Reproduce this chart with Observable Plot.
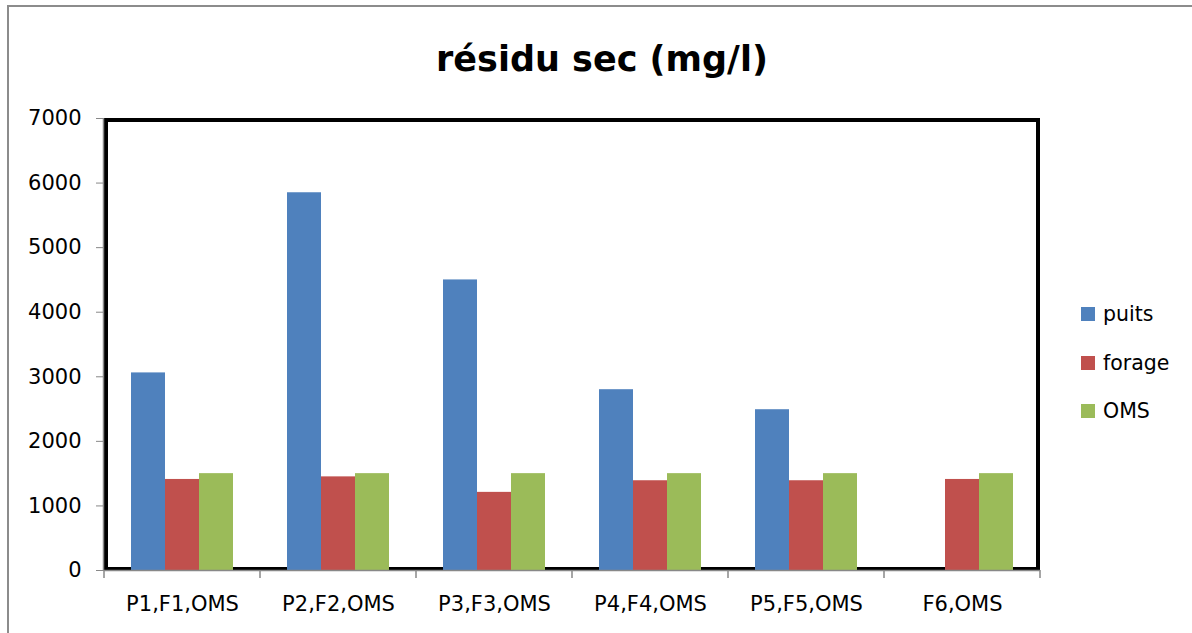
<!DOCTYPE html>
<html>
<head>
<meta charset="utf-8">
<script src="https://cdn.jsdelivr.net/npm/d3@7"></script>
<script src="https://cdn.jsdelivr.net/npm/@observablehq/plot@0.6"></script>
<style>
  html, body { margin: 0; padding: 0; background: #fff; overflow: hidden; }
  #wrap { position: relative; width: 1192px; height: 633px; font-family: "DejaVu Sans", sans-serif; }
  #border { position: absolute; left: 7px; top: 5px; width: 1400px; height: 800px;
            border-left: 2px solid #8c8c8c; border-top: 2px solid #8c8c8c; }
  #title { position: absolute; left: 6px; top: 38px; width: 1192px; text-align: center;
           font-size: 35px; font-weight: bold; line-height: 42px; color: #000; }
  #chart { position: absolute; left: 0; top: 90px; }
  #legend { position: absolute; left: 1081px; top: 300px; font-size: 20.5px; color: #000; }
  #legend .item { display: flex; align-items: center; height: 28px; margin-bottom: 20.5px; }
  #legend .sw { width: 14px; height: 14px; margin-right: 8px; }
</style>
</head>
<body>
<div id="wrap">
  <div id="border"></div>
  <div id="title"></div>
  <div id="chart"></div>
  <div id="legend"></div>
</div>
<script>
const titleText = "résidu sec (mg/l)";
const categories = ["P1,F1,OMS", "P2,F2,OMS", "P3,F3,OMS", "P4,F4,OMS", "P5,F5,OMS", "F6,OMS"];
const series = ["puits", "forage", "OMS"];
const puits = [3060, 5850, 4500, 2800, 2490, null];
const forage = [1410, 1450, 1210, 1390, 1390, 1410];
const oms = [1500, 1500, 1500, 1500, 1500, 1500];
const yTicks = [0, 1000, 2000, 3000, 4000, 5000, 6000, 7000];
const colors = ["#4F81BD", "#C0504D", "#9BBB59"];

const valuesBySeries = [puits, forage, oms];
const data = [];
categories.forEach((c, i) => {
  series.forEach((s, j) => {
    const v = valuesBySeries[j][i];
    if (v != null) data.push({cat: c, series: s, value: v});
  });
});

document.getElementById("title").textContent = titleText;

const chart = Plot.plot({
  width: 1192,
  height: 543,
  marginTop: 28,
  marginBottom: 63,
  marginLeft: 104,
  marginRight: 152,
  style: {fontFamily: "DejaVu Sans, sans-serif", fontSize: "21px", color: "#000", background: "transparent", overflow: "visible"},
  fx: {domain: categories, padding: 0, label: null},
  x: {domain: series, paddingInner: 0, paddingOuter: 0.75, axis: null},
  y: {domain: [0, 7000], label: null},
  color: {domain: series, range: colors},
  marks: [
    Plot.barY(data, {fx: "cat", x: "series", y: "value", fill: "series"}),
    Plot.axisY({ticks: yTicks, tickSize: 8, tickPadding: 15, stroke: "#888", label: null, tickFormat: d => String(d), fill: "#000", fontSize: 21}),
    Plot.axisFx({anchor: "bottom", tickSize: 0, tickPadding: 26, label: null, fill: "#000", fontSize: 21})
  ]
});
document.getElementById("chart").appendChild(chart);

// frame and category ticks, positioned from Plot's own scales
const fxScale = chart.scale("fx");
const yScale = chart.scale("y");
const svg = d3.select(chart);
const xLeft = fxScale.apply(categories[0]);
const xRight = fxScale.apply(categories[categories.length - 1]) + fxScale.bandwidth;
const yBottom = yScale.apply(0);
const yTop = yScale.apply(7000);
svg.insert("rect", ":first-child")
  .attr("x", xLeft + 2).attr("y", yTop + 2)
  .attr("width", xRight - xLeft - 4).attr("height", yBottom - yTop - 3)
  .attr("fill", "none").attr("stroke", "#000").attr("stroke-width", 4);
svg.append("line").attr("x1", xLeft - 0.5).attr("x2", xLeft - 0.5).attr("y1", yTop).attr("y2", yBottom)
  .attr("stroke", "#888").attr("stroke-width", 1.5);
svg.append("line").attr("x1", xLeft).attr("x2", xRight).attr("y1", yBottom + 0.5).attr("y2", yBottom + 0.5)
  .attr("stroke", "#888").attr("stroke-width", 1.5);
const edges = categories.map(c => fxScale.apply(c)).concat([xRight]);
svg.append("g").selectAll("line").data(edges).join("line")
  .attr("x1", d => d).attr("x2", d => d).attr("y1", yBottom).attr("y2", yBottom + 8)
  .attr("stroke", "#888").attr("stroke-width", 1.5);

// legend
const legend = d3.select("#legend");
series.forEach((s, i) => {
  const item = legend.append("div").attr("class", "item");
  item.append("div").attr("class", "sw").style("background", colors[i]);
  item.append("span").text(s);
});
</script>
</body>
</html>
